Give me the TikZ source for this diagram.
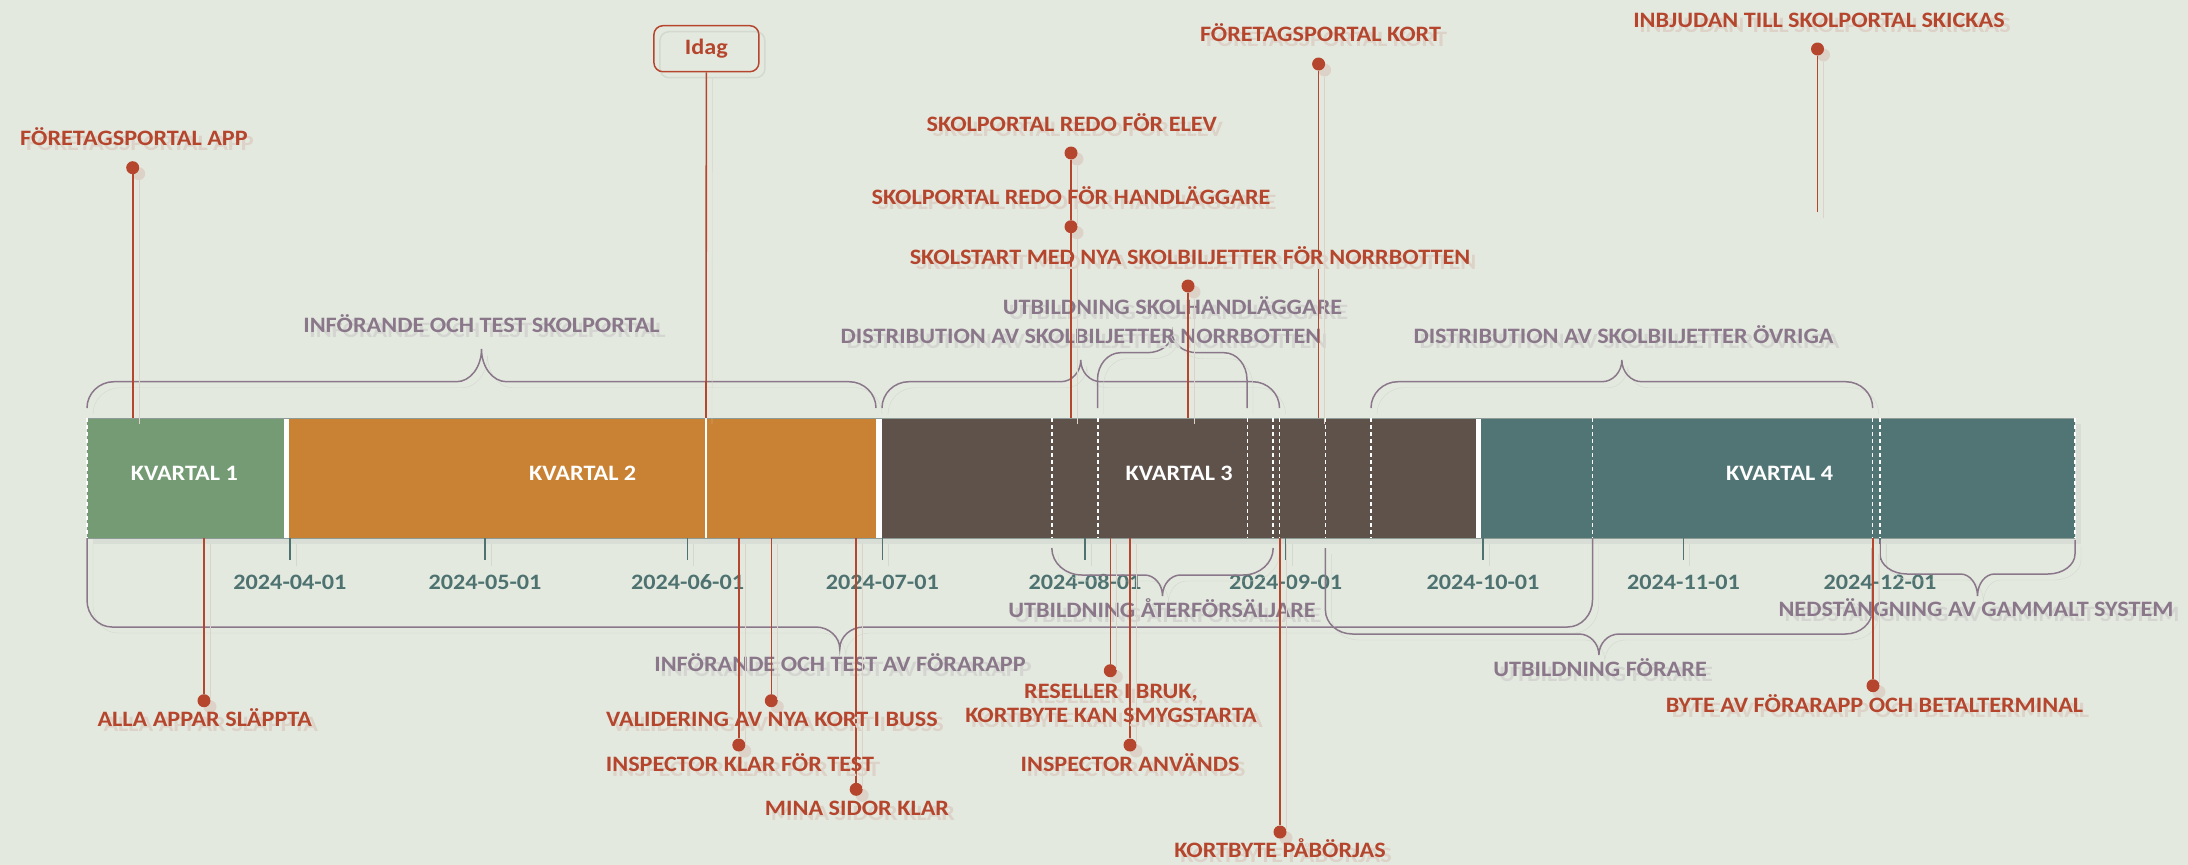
\documentclass[tikz,border=0pt]{standalone}
\usepackage{fontspec}
\setmainfont{Carlito}
\newfontfamily\lblfont{Carlito}[FakeStretch=1.1]
\definecolor{bgc}{RGB}{228,233,224}
\definecolor{q1c}{RGB}{116,155,116}
\definecolor{q2c}{RGB}{201,130,51}
\definecolor{q3c}{RGB}{94,82,75}
\definecolor{q4c}{RGB}{81,117,117}
\definecolor{redc}{RGB}{181,70,45}
\definecolor{mauc}{RGB}{138,120,138}
\definecolor{datec}{RGB}{78,114,112}
\colorlet{redsh}{redc!14!bgc}
\colorlet{maush}{mauc!18!bgc}
\colorlet{linesh}{black!7!bgc}
\colorlet{barsh}{black!5!bgc}
\definecolor{barline}{RGB}{140,155,150}
\newcommand\sht[2]{\makebox[0pt][l]{\smash{\raisebox{-5pt}{\hspace{6pt}\textcolor{#1}{#2}}}}#2}
\newcommand\brc[8]{%
\pgfmathsetmacro\bxc{(#1+#2)/2}%
\pgfmathsetmacro\bs{(#3>#4)?1:-1}%
\pgfmathsetmacro\byA{#4+\bs*#7}%
\pgfmathsetmacro\byB{#4+\bs*#7*0.448}%
\pgfmathsetmacro\bxA{#1+#6*0.448}%
\pgfmathsetmacro\bxB{#1+#6}%
\pgfmathsetmacro\bxC{\bxc-#8}%
\pgfmathsetmacro\bxD{\bxc-#8*0.448}%
\pgfmathsetmacro\byT{#5+(#4-#5)*0.552}%
\pgfmathsetmacro\bxE{\bxc+#8*0.448}%
\pgfmathsetmacro\bxF{\bxc+#8}%
\pgfmathsetmacro\bxG{#2-#6}%
\pgfmathsetmacro\bxH{#2-#6*0.448}%
\draw[bracel] (#1,#3) -- (#1,\byA) .. controls (#1,\byB) and (\bxA,#4) .. (\bxB,#4) -- (\bxC,#4) .. controls (\bxD,#4) and (\bxc,\byT) .. (\bxc,#5) .. controls (\bxc,\byT) and (\bxE,#4) .. (\bxF,#4) -- (\bxG,#4) .. controls (\bxH,#4) and (#2,\byB) .. (#2,\byA) -- (#2,#3);%
}
\begin{document}
\begin{tikzpicture}[x=1pt,y=-1pt,
  lbl/.style={font=\lblfont\bfseries\fontsize{22}{26}\selectfont, inner sep=0pt, anchor=base},
  redl/.style={lbl, text=redc},
  maul/.style={lbl, text=mauc},
  datel/.style={lbl, text=datec},
  ql/.style={lbl, text=white},
  qbox/.style={rectangle, inner sep=0pt, minimum height=120pt, anchor=west},
  bracel/.style={draw=mauc, line width=1.5pt, preaction={draw=linesh, transform canvas={shift={(6,6)}}}},
  rline/.style={draw=redc, line width=1.6pt, preaction={draw=redsh, transform canvas={shift={(6,6)}}}},
  dot/.style={circle, fill=redc, inner sep=0pt, minimum size=13pt, preaction={fill=redsh, transform canvas={shift={(6,6)}}}},
  tick/.style={draw=datec, line width=1.4pt, preaction={draw=linesh, transform canvas={shift={(6,6)}}}},
  wdash/.style={draw=white, line width=1.5pt, dash pattern=on 4pt off 3pt},
  idagbox/.style={draw=redc, line width=1.5pt, rounded corners=9pt, minimum width=105pt, minimum height=46pt, inner sep=0pt, text=redc, font=\lblfont\bfseries\fontsize{22}{26}\selectfont, preaction={draw=linesh, transform canvas={shift={(6,6)}}}}
]
\useasboundingbox (0,0) rectangle (2188,865);
\fill[bgc] (0,0) rectangle (2188,865);

% ---- bar ----
\fill[barsh] (93,424) rectangle (2081,544);
\node[qbox, fill=q1c, minimum width=196.3pt] (q1) at (87,478) {};
\node[qbox, fill=white, minimum width=5pt] (s1) at (283.3,478) {};
\node[qbox, fill=q2c, minimum width=587.7pt] (q2) at (288.3,478) {};
\node[qbox, fill=white, minimum width=6pt] (s2) at (876,478) {};
\node[qbox, fill=q3c, minimum width=594pt] (q3) at (882,478) {};
\node[qbox, fill=white, minimum width=5pt] (s3) at (1476,478) {};
\node[qbox, fill=q4c, minimum width=594pt] (q4) at (1481,478) {};
\draw[barline, line width=1pt] (87,418) -- (2075,418);
\draw[barline, line width=1pt] (87,538) -- (2075,538);
\foreach \x in {87,1051.8,1097.8,1247.3,1273.2,1279.5,1325.4,1371,1592.5,1872.4,1880,2075}
  \draw[wdash] (\x,418) -- (\x,538);
\draw[draw=white, line width=1.8pt] (706,418) -- (706,538);

\node[ql] (k1) at (184.3,480) {KVARTAL 1};
\node[ql] (k2) at (582.7,480) {KVARTAL 2};
\node[ql] (k3) at (1179.2,480) {KVARTAL 3};
\node[ql] (k4) at (1779.6,480) {KVARTAL 4};

% ---- ticks and dates ----
\foreach \x/\d [count=\i] in {289.9/2024-04-01,485/2024-05-01,687.6/2024-06-01,882.3/2024-07-01,1085/2024-08-01,1285.7/2024-09-01,1483/2024-10-01,1683.5/2024-11-01,1880/2024-12-01}{
  \coordinate (tt\i) at (\x,538);
  \coordinate (tb\i) at (\x,560);
  \draw[tick] (tt\i) -- (tb\i);
  \node[datel] (dl\i) at (\x,589.3) {\d};
}

% ---- braces ----
\brc{87}{876}{408}{381.7}{349}{27}{26.3}{25}
\brc{882}{1279.5}{408}{381.7}{360}{27}{26.3}{20}
\brc{1097.5}{1247}{408}{352.7}{333}{23}{27}{25}
\brc{1371}{1872.7}{408}{381.7}{360}{27}{26.3}{20}
\brc{87}{1592.5}{538}{627}{649}{25}{27}{24}
\brc{1051.8}{1273.2}{548}{575}{596}{30}{27}{18}
\brc{1325.4}{1872.4}{548}{634}{655}{27}{24}{20}
\brc{1880}{2075}{540}{574}{596}{27}{20}{17}

\node[maul] (m1) at (481.5,332.7) {\sht{maush}{INFÖRANDE OCH TEST SKOLPORTAL}};
\node[maul] (m2) at (1081,343.7) {\sht{maush}{DISTRIBUTION AV SKOLBILJETTER NORRBOTTEN}};
\node[maul] (m3) at (1172.5,314) {\sht{maush}{UTBILDNING SKOLHANDLÄGGARE}};
\node[maul] (m4) at (1623.5,343.7) {\sht{maush}{DISTRIBUTION AV SKOLBILJETTER ÖVRIGA}};
\node[maul] (m5) at (840,671) {\sht{maush}{INFÖRANDE OCH TEST AV FÖRARAPP}};
\node[maul] (m6) at (1162,617) {\sht{maush}{UTBILDNING ÅTERFÖRSÄLJARE}};
\node[maul] (m7) at (1600,676) {\sht{maush}{UTBILDNING FÖRARE}};
\node[maul] (m8) at (1976,616.7) {\sht{maush}{NEDSTÄNGNING AV GAMMALT SYSTEM}};

% ---- Idag ----
\node[idagbox] (idag) at (706.4,48.7) {Idag};
\coordinate (idagb) at (706,418);
\draw[rline] (idag.south) -- (idagb);

% ---- milestones above ----
\node[dot] (d1) at (132.7,167.7) {};
\node[dot] (d2) at (1071,153) {};
\node[dot] (d3) at (1071,226.7) {};
\node[dot] (d4) at (1188,286) {};
\node[dot] (d5) at (1318.6,64) {};
\node[dot] (d6) at (1817.5,49) {};
\coordinate (b1) at (132.7,418);
\coordinate (b3) at (1071,418);
\coordinate (b4) at (1188,418);
\coordinate (b5) at (1318.6,418);
\coordinate (e6) at (1817.5,211.7);
\draw[rline] (d1) -- (b1);
\draw[rline] (d2) -- (d3);
\draw[rline] (d3) -- (b3);
\draw[rline] (d4) -- (b4);
\draw[rline] (d5) -- (b5);
\draw[rline] (d6) -- (e6);

\node[redl] (r1) at (134,145.3) {\sht{redsh}{FÖRETAGSPORTAL APP}};
\node[redl] (r2) at (1071.8,131) {\sht{redsh}{SKOLPORTAL REDO FÖR ELEV}};
\node[redl] (r3) at (1071,204.3) {\sht{redsh}{SKOLPORTAL REDO FÖR HANDLÄGGARE}};
\node[redl] (r4) at (1190,264.3) {\sht{redsh}{SKOLSTART MED NYA SKOLBILJETTER FÖR NORRBOTTEN}};
\node[redl] (r5) at (1320.5,41.3) {\sht{redsh}{FÖRETAGSPORTAL KORT}};
\node[redl] (r6) at (1819,27.7) {\sht{redsh}{INBJUDAN TILL SKOLPORTAL SKICKAS}};

% ---- milestones below ----
\node[dot] (d7) at (204,700.7) {};
\node[dot] (d8) at (771.3,700.7) {};
\node[dot] (d9) at (738.8,745) {};
\node[dot] (d10) at (856.2,789.3) {};
\node[dot] (d11) at (1110.3,670.7) {};
\node[dot] (d12) at (1130,745) {};
\node[dot] (d13) at (1280,832) {};
\node[dot] (d14) at (1873,685.7) {};
\coordinate (c7) at (204,538);
\coordinate (c8) at (771.3,538);
\coordinate (c9) at (738.8,538);
\coordinate (c10) at (856.2,538);
\coordinate (c11) at (1110.3,538);
\coordinate (c12) at (1130,538);
\coordinate (c13) at (1280,538);
\coordinate (c14) at (1873,538);
\draw[rline] (c7) -- (d7);
\draw[rline] (c8) -- (d8);
\draw[rline] (c9) -- (d9);
\draw[rline] (c10) -- (d10);
\draw[rline] (c11) -- (d11);
\draw[rline] (c12) -- (d12);
\draw[rline] (c13) -- (d13);
\draw[rline] (c14) -- (d14);

\node[redl] (r7) at (204.8,726.3) {\sht{redsh}{ALLA APPAR SLÄPPTA}};
\node[redl] (r8) at (772,726.3) {\sht{redsh}{VALIDERING AV NYA KORT I BUSS}};
\node[redl] (r9) at (740,771.3) {\sht{redsh}{INSPECTOR KLAR FÖR TEST}};
\node[redl] (r10) at (857,815.3) {\sht{redsh}{MINA SIDOR KLAR}};
\node[redl] (r11a) at (1111,698) {\sht{redsh}{RESELLER I BRUK,}};
\node[redl] (r11b) at (1111,722.7) {\sht{redsh}{KORTBYTE KAN SMYGSTARTA}};
\node[redl] (r12) at (1130,771.3) {\sht{redsh}{INSPECTOR ANVÄNDS}};
\node[redl] (r13) at (1280,857) {\sht{redsh}{KORTBYTE PÅBÖRJAS}};
\node[redl] (r14) at (1874.5,712.3) {\sht{redsh}{BYTE AV FÖRARAPP OCH BETALTERMINAL}};
\end{tikzpicture}
\end{document}
